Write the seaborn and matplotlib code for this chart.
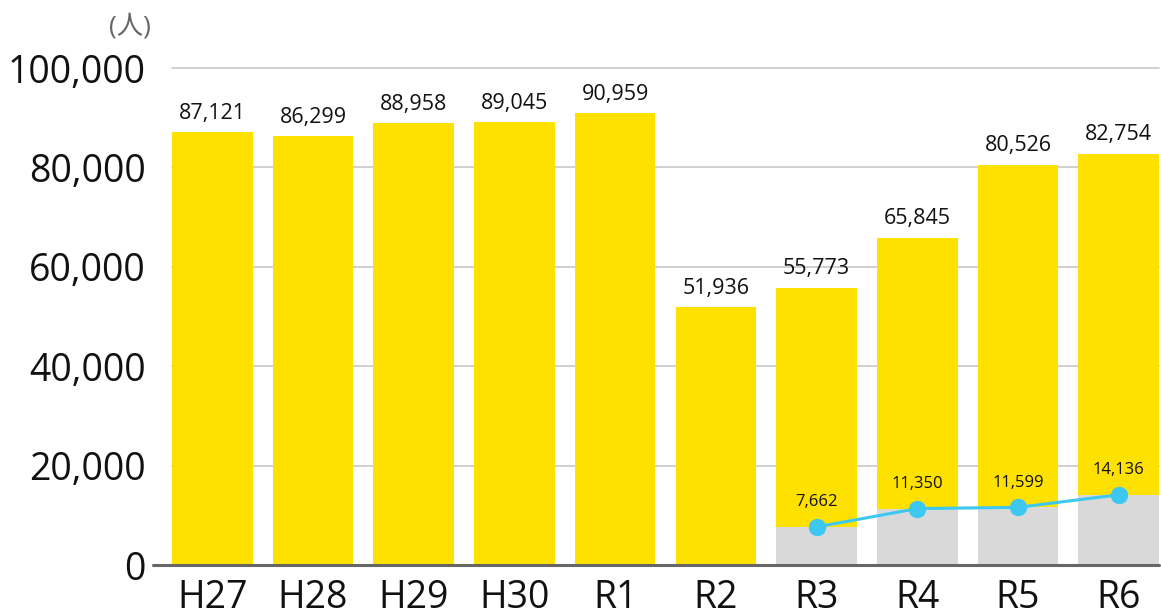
import numpy as np
import pandas as pd
import seaborn as sns
import matplotlib
matplotlib.use("Agg")
import matplotlib.pyplot as plt

# %%
years = ["H27", "H28", "H29", "H30", "R1", "R2", "R3", "R4", "R5", "R6"]
total = [87121, 86299, 88958, 89045, 90959, 51936, 55773, 65845, 80526, 82754]
sub_years = ["R3", "R4", "R5", "R6"]
sub_vals = [7662, 11350, 11599, 14136]

sns.set_theme(style="white")
plt.rcParams['font.family'] = ['Open Sans', 'Noto Sans CJK JP', 'DejaVu Sans']

# %%
fig = plt.figure(figsize=(11.61, 6.15), dpi=100)
ax = fig.add_axes([172/1161, 1-565/615, (1159-172)/1161, (565-68)/615])

sns.barplot(x=years, y=total, order=years, color="#FFE100", width=0.8,
            saturation=1, linewidth=0, ax=ax, zorder=2)
sns.barplot(x=sub_years, y=sub_vals, order=years, color="#D9D9D9", width=0.8,
            saturation=1, linewidth=0, ax=ax, zorder=3)

pos = [years.index(y) for y in sub_years]
sns.lineplot(x=pos, y=sub_vals, color="#3CC8F0", linewidth=2.2, marker="o",
             markersize=12.5, markeredgewidth=0, ax=ax, zorder=5)

for i, v in enumerate(total):
    ax.annotate(f"{v:,}", (i, v), xytext=(0, 6), textcoords="offset points",
                ha="center", va="bottom", fontsize=15.5, color="#111111")
for p, v in zip(pos, sub_vals):
    ax.annotate(f"{v:,}", (p, v), xytext=(0, 12), textcoords="offset points",
                ha="center", va="bottom", fontsize=12, color="#111111")

ax.set_xlim(-0.4, 9.4)
ax.set_ylim(0, 100000)
ax.set_yticks(range(0, 100001, 20000))
ax.set_yticklabels([f"{t:,}" for t in range(0, 100001, 20000)])
ax.tick_params(axis="both", length=0, labelsize=27, colors="#111111")
ax.tick_params(axis="y", pad=19)
ax.tick_params(axis="x", pad=10)

for t in range(20000, 100001, 20000):
    ax.axhline(t, color="#C8C8C8", linewidth=1.2, zorder=1, clip_on=False)
ax.plot([-0.59, 9.4], [0, 0], color="#666666", linewidth=2.2, clip_on=False, zorder=6)

for s in ax.spines.values():
    s.set_visible(False)
ax.set_xlabel("")
ax.set_ylabel("")

fig.text(130/1161, 1-27/615, "(人)", ha="center", va="center", fontsize=19, color="#666666")

fig.savefig("out.png", dpi=100)
